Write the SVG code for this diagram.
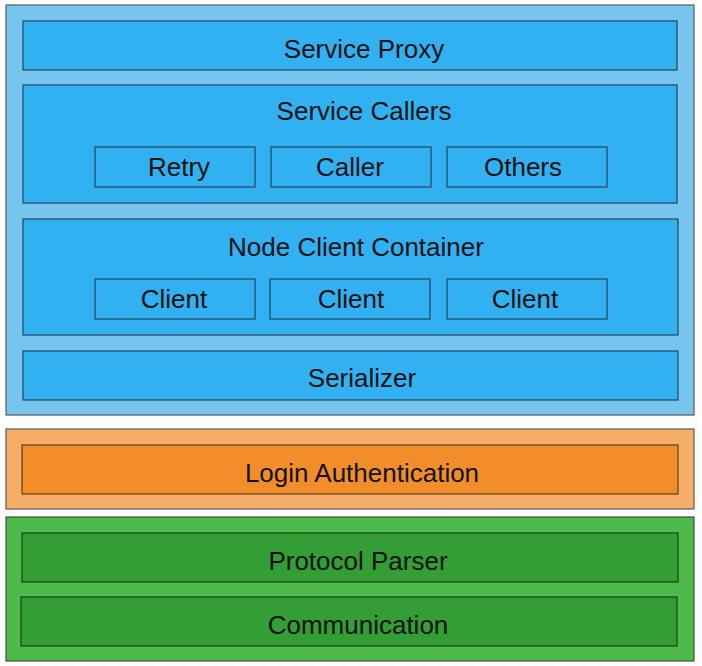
<svg xmlns="http://www.w3.org/2000/svg" width="702" height="666" viewBox="0 0 702 666">
<defs>
<pattern id="grid" x="7.5" y="15.5" width="16" height="16" patternUnits="userSpaceOnUse">
<path d="M0 0H16M0 0V16" fill="none" stroke="#ececec" stroke-width="1"/>
</pattern>
<style>
text{font-family:"Liberation Sans",Arial,sans-serif;font-size:26px;fill:#111;text-anchor:middle;dominant-baseline:central}
.ob{fill:#76c5ee;stroke:#5a5a5a;stroke-width:1.2}
.ib{fill:#31b0f2;stroke:#23445d;stroke-width:1.2}
.oo{fill:#f4ae67;stroke:#5a5a5a;stroke-width:1.2}
.io{fill:#f28e2a;stroke:#5a4020;stroke-width:1.2}
.og{fill:#4cbb4a;stroke:#4a4a4a;stroke-width:1.2}
.ig{fill:#329e33;stroke:#1f3f1f;stroke-width:1.2}
</style>
</defs>
<rect width="702" height="666" fill="#ffffff"/>
<rect width="702" height="666" fill="url(#grid)"/>
<g id="app-layer"><rect class="ob" x="6" y="5" width="688" height="410"/></g>
<g id="service-proxy"><rect class="ib" x="23" y="21" width="654" height="49"/><text x="364" y="49">Service Proxy</text></g>
<g id="service-callers"><rect class="ib" x="23" y="85" width="654" height="118"/><text x="364" y="111">Service Callers</text></g>
<g id="retry"><rect class="ib" x="95" y="147" width="160" height="40"/><text x="179" y="167">Retry</text></g>
<g id="caller"><rect class="ib" x="271" y="147" width="160" height="40"/><text x="350" y="167">Caller</text></g>
<g id="others"><rect class="ib" x="447" y="147" width="160" height="40"/><text x="523" y="167">Others</text></g>
<g id="node-client-container"><rect class="ib" x="23" y="219" width="655" height="116"/><text x="356" y="247">Node Client Container</text></g>
<g id="client1"><rect class="ib" x="95" y="279" width="160" height="40"/><text x="174" y="299">Client</text></g>
<g id="client2"><rect class="ib" x="270" y="279" width="160" height="40"/><text x="351" y="299">Client</text></g>
<g id="client3"><rect class="ib" x="447" y="279" width="160" height="40"/><text x="525" y="299">Client</text></g>
<g id="serializer"><rect class="ib" x="23" y="351" width="655" height="49"/><text x="362" y="378">Serializer</text></g>
<g id="auth-layer"><rect class="oo" x="6" y="429" width="688" height="80"/></g>
<g id="login-authentication"><rect class="io" x="22" y="445" width="656" height="49"/><text x="362" y="473">Login Authentication</text></g>
<g id="transport-layer"><rect class="og" x="6" y="517" width="688" height="144"/></g>
<g id="protocol-parser"><rect class="ig" x="22" y="533" width="656" height="49"/><text x="358" y="561">Protocol Parser</text></g>
<g id="communication"><rect class="ig" x="21" y="597" width="656" height="49"/><text x="358" y="625">Communication</text></g>
<g id="connectors"></g>
</svg>
